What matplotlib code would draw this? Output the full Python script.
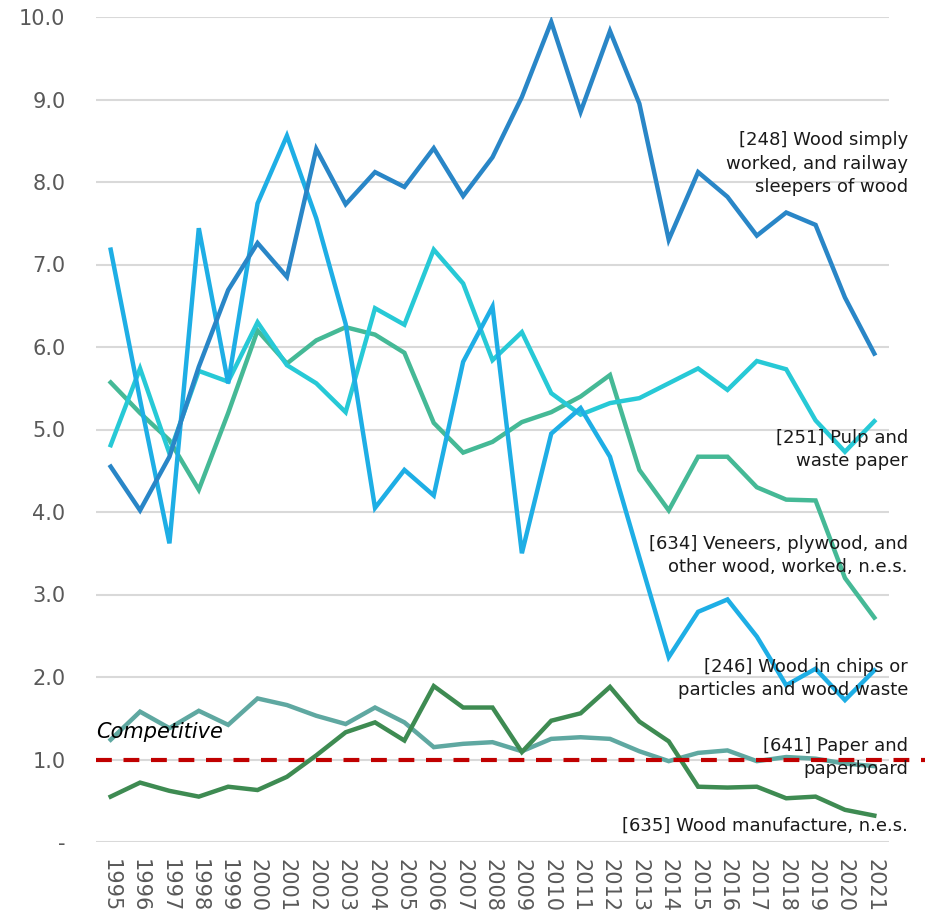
import matplotlib
matplotlib.use("Agg")
import matplotlib.pyplot as plt
import numpy as np

years = [str(y) for y in range(1995, 2022)]

s248 = [4.55, 4.02, 4.67, 5.76, 6.69, 7.26, 6.85, 8.40, 7.73, 8.12, 7.94, 8.41, 7.83, 8.30,
        9.03, 9.94, 8.85, 9.83, 8.95, 7.30, 8.12, 7.82, 7.35, 7.63, 7.48, 6.60, 5.92]
s246 = [7.18, 5.36, 3.62, 7.44, 5.56, 7.74, 8.56, 7.56, 6.28, 4.05, 4.51, 4.20, 5.82, 6.49,
        3.50, 4.95, 5.26, 4.67, 3.45, 2.24, 2.79, 2.94, 2.49, 1.90, 2.10, 1.72, 2.08]
s251 = [4.81, 5.74, 4.71, 5.71, 5.58, 6.30, 5.78, 5.56, 5.21, 6.47, 6.27, 7.18, 6.77, 5.84,
        6.18, 5.44, 5.18, 5.32, 5.38, 5.56, 5.74, 5.48, 5.83, 5.73, 5.11, 4.73, 5.10]
s634 = [5.57, 5.20, 4.87, 4.27, 5.20, 6.20, 5.80, 6.08, 6.24, 6.15, 5.93, 5.08, 4.72, 4.85,
        5.09, 5.21, 5.40, 5.66, 4.51, 4.02, 4.67, 4.67, 4.30, 4.15, 4.14, 3.20, 2.72]
s641 = [1.24, 1.58, 1.38, 1.59, 1.42, 1.74, 1.66, 1.53, 1.43, 1.63, 1.45, 1.15, 1.19, 1.21,
        1.10, 1.25, 1.27, 1.25, 1.10, 0.98, 1.08, 1.11, 0.98, 1.03, 1.01, 0.95, 0.92]
s635 = [0.55, 0.72, 0.62, 0.55, 0.67, 0.63, 0.79, 1.05, 1.33, 1.45, 1.23, 1.89, 1.63, 1.63,
        1.09, 1.47, 1.56, 1.88, 1.46, 1.22, 0.67, 0.66, 0.67, 0.53, 0.55, 0.39, 0.32]

series = [
    (s641, "#5fa8a1", "[641] Paper and\npaperboard", 772),
    (s635, "#3e8b52", "[635] Wood manufacture, n.e.s.", 829),
    (s634, "#45b996", "[634] Veneers, plywood, and\nother wood, worked, n.e.s.", 570),
    (s251, "#27c9d6", "[251] Pulp and\nwaste paper", 464),
    (s246, "#1eaee5", "[246] Wood in chips or\nparticles and wood waste", 693),
    (s248, "#2986c7", "[248] Wood simply\nworked, and railway\nsleepers of wood", 190),
]

yticks = [0, 1, 2, 3, 4, 5, 6, 7, 8, 9, 10]
ytick_labels = ["-", "1.0", "2.0", "3.0", "4.0", "5.0", "6.0", "7.0", "8.0", "9.0", "10.0"]

W, H = 928, 915
fig = plt.figure(figsize=(W / 100, H / 100), dpi=100)
ax = fig.add_axes([96 / W, 1 - 842 / H, (889 - 96) / W, (842 - 17) / H])

x = np.arange(len(years))
ax.set_xlim(-0.5, len(years) - 0.5)
ax.set_ylim(0, 10)

ax.set_yticks(yticks)
ax.set_yticklabels(ytick_labels)
ax.yaxis.grid(True, color="#d9d9d9", lw=1.5)
ax.set_axisbelow(True)
for sp in ax.spines.values():
    sp.set_visible(False)
ax.tick_params(axis="y", length=0, pad=22, labelsize=15, labelcolor="#595959")
ax.tick_params(axis="x", length=0, pad=12, labelsize=15, labelcolor="#595959")
ax.set_xticks(x)
ax.set_xticklabels(years, rotation=270, va="top", ha="center")

ax.axhline(1.0, xmin=0, xmax=(925 - 96) / (889 - 96), color="#c00000", lw=3,
           ls=(0, (3.8, 2.8)), clip_on=False, zorder=5)

for vals, col, lab, ypix in series:
    ax.plot(x, vals, color=col, lw=3.2, solid_joinstyle="miter", zorder=3)

for vals, col, lab, ypix in series:
    fig.text(908 / W, 1 - (ypix + 6) / H, lab, ha="right", va="bottom",
             fontsize=13, color="#1a1a1a", linespacing=1.38)

ax.text(0.0, 1.33, "Competitive", fontsize=15, style="italic", color="black",
        ha="left", va="center", transform=ax.get_yaxis_transform())

fig.savefig("out.png", dpi=100)
